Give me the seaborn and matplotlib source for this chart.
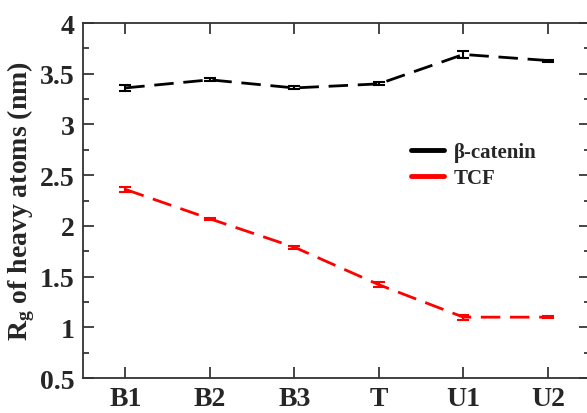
import matplotlib
matplotlib.use("Agg")
import matplotlib.pyplot as plt
import seaborn as sns
import pandas as pd
import numpy as np
from matplotlib.ticker import MultipleLocator, FuncFormatter
from matplotlib.lines import Line2D

categories = ["B1", "B2", "B3", "T", "U1", "U2"]
beta_catenin = [3.36, 3.44, 3.36, 3.40, 3.69, 3.63]
beta_err = [0.03, 0.015, 0.015, 0.015, 0.035, 0.01]
tcf = [2.36, 2.07, 1.79, 1.42, 1.10, 1.10]
tcf_err = [0.025, 0.01, 0.015, 0.025, 0.025, 0.01]

sns.set_style("ticks")
plt.rcParams['font.family'] = ['Liberation Serif', 'DejaVu Serif']
plt.rcParams['font.weight'] = 'bold'
plt.rcParams['mathtext.fontset'] = 'custom'
plt.rcParams['mathtext.rm'] = 'Liberation Serif:bold'
plt.rcParams['mathtext.bf'] = 'Liberation Serif:bold'
plt.rcParams['mathtext.it'] = 'Liberation Serif:bold'

pos = np.arange(len(categories))
df = pd.DataFrame({
    "pos": np.concatenate([pos, pos]),
    "val": beta_catenin + tcf,
    "err": beta_err + tcf_err,
    "series": ["β-catenin"] * len(categories) + ["TCF"] * len(categories),
})

fig = plt.figure(figsize=(5.87, 4.14), dpi=100)
ax = fig.add_axes([0.1414, 0.0845, 0.864, 0.8575])

colors = {"β-catenin": "black", "TCF": "#ff0000"}
sns.lineplot(data=df, x="pos", y="val", hue="series", palette=colors, ax=ax,
             linewidth=2.0, legend=False)
for line in ax.get_lines():
    line.set_dashes((7, 3.5))

for name, sub in df.groupby("series"):
    ax.errorbar(sub["pos"], sub["val"], yerr=sub["err"], fmt="none",
                ecolor=colors[name], elinewidth=1.5, capsize=4, capthick=1.5)

handles = [Line2D([], [], color="black", lw=3.5), Line2D([], [], color="#ff0000", lw=3.5)]
ax.legend(handles, ["β-catenin", "TCF"], loc="center left",
          bbox_to_anchor=(0.61, 0.60), frameon=False, handlelength=1.6,
          handletextpad=0.45,
          prop={"family": "Liberation Serif", "weight": "bold", "size": 15},
          labelspacing=0.3)

ax.set_xlim(-0.5, 5.5)
ax.set_ylim(0.5, 4.0)
ax.set_xticks(pos)
ax.set_xticklabels(categories)
ax.yaxis.set_major_locator(MultipleLocator(0.5))
ax.yaxis.set_minor_locator(MultipleLocator(0.25))
ax.yaxis.set_major_formatter(FuncFormatter(lambda v, p: f"{v:g}"))
ax.tick_params(axis="both", which="major", direction="in", length=8, width=1.2,
               labelsize=20, top=True, right=True, pad=6)
ax.tick_params(axis="y", which="minor", direction="in", length=4, width=1.2, right=True)
ax.set_xlabel("")
ax.set_ylabel(r"R$_\mathregular{g}$ of heavy atoms (nm)", fontsize=20, fontweight="bold", labelpad=2)
for s in ax.spines.values():
    s.set_linewidth(1.3)
    s.set_color("#333333")

fig.savefig("out.png", dpi=100)
